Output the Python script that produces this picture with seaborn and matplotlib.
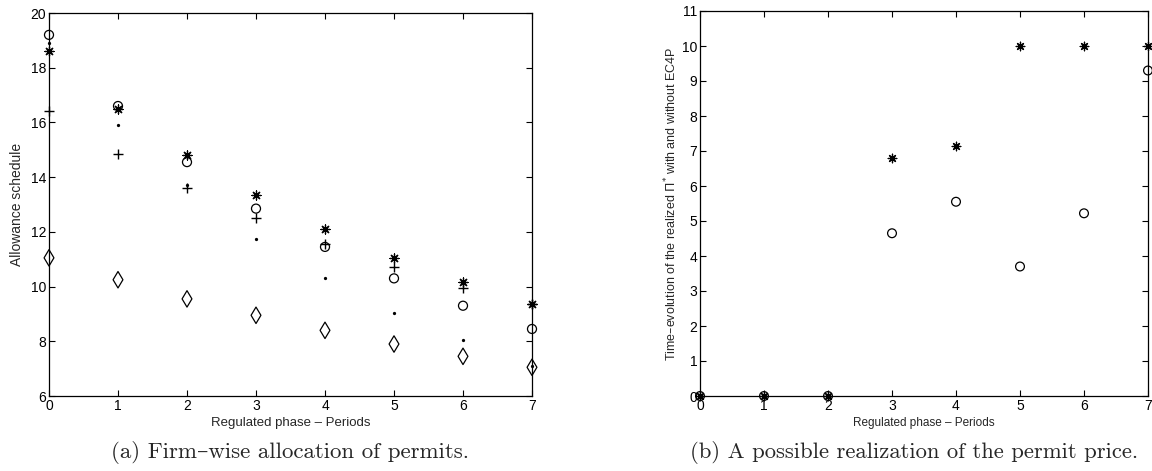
import matplotlib
matplotlib.use('Agg')
import matplotlib.pyplot as plt
import seaborn as sns

sns.set_style('ticks')
plt.rcParams['font.family'] = ['Liberation Sans', 'DejaVu Sans']
plt.rcParams['mathtext.fontset'] = 'dejavusans'

# 왼쪽 그림: 기간별 기업별 할당량
periods = [0, 1, 2, 3, 4, 5, 6, 7]
firm_circle = [19.2, 16.6, 14.55, 12.85, 11.45, 10.3, 9.3, 8.45]
firm_star = [18.6, 16.5, 14.8, 13.35, 12.1, 11.05, 10.15, 9.35]
firm_plus = [16.4, 14.85, 13.6, 12.5, 11.55, 10.7, 9.95, 9.35]
firm_dot = [18.9, 15.9, 13.7, 11.75, 10.3, 9.05, 8.05, 7.1]
firm_diamond = [11.05, 10.25, 9.55, 8.95, 8.4, 7.9, 7.45, 7.05]

# 오른쪽 그림: 허가 가격 실현값
price_with = [0, 0, 0, 6.8, 7.15, 10, 10, 10]
price_without = [0, 0, 0, 4.65, 5.55, 3.7, 5.22, 9.3]

left_yticks = [6, 8, 10, 12, 14, 16, 18, 20]
right_yticks = list(range(12))

W, H = 1152, 471
fig = plt.figure(figsize=(W / 100, H / 100), dpi=100)
ax1 = fig.add_axes([49 / W, 1 - 396 / H, 483 / W, 383 / H])
ax2 = fig.add_axes([700 / W, 1 - 396 / H, 448 / W, 385 / H])

star = (8, 2, 0)
kw = dict(clip_on=False, zorder=3, legend=False)

sns.scatterplot(x=periods, y=firm_circle, ax=ax1, marker='o', s=42,
                facecolors='none', edgecolor='black', linewidth=0.9, **kw)
sns.scatterplot(x=periods, y=firm_star, ax=ax1, marker=star, s=42,
                color='black', linewidth=0.9, **kw)
sns.scatterplot(x=periods, y=firm_plus, ax=ax1, marker='+', s=55,
                color='black', linewidth=1.0, **kw)
sns.scatterplot(x=periods, y=firm_dot, ax=ax1, marker='.', s=22,
                color='black', linewidth=0, **kw)
sns.scatterplot(x=periods, y=firm_diamond, ax=ax1, marker='d', s=70,
                facecolors='none', edgecolor='black', linewidth=0.9, **kw)

sns.scatterplot(x=periods, y=price_without, ax=ax2, marker='o', s=40,
                facecolors='none', edgecolor='black', linewidth=0.9, **kw)
sns.scatterplot(x=periods, y=price_with, ax=ax2, marker=star, s=38,
                color='black', linewidth=0.9, **kw)

ax1.set_xlim(0, 7)
ax1.set_ylim(6, 20)
ax1.set_yticks(left_yticks)
ax1.set_xticks(periods)
ax1.set_xlabel('Regulated phase – Periods', fontsize=9.5, labelpad=3)
ax1.set_ylabel('Allowance schedule', fontsize=10, labelpad=5)

ax2.set_xlim(0, 7)
ax2.set_ylim(0, 11)
ax2.set_yticks(right_yticks)
ax2.set_xticks(periods)
ax2.set_xlabel('Regulated phase – Periods', fontsize=8.5, labelpad=3)
ax2.set_ylabel(r'Time–evolution of the realized $\Pi^{*}$ with and without EC4P',
               fontsize=9, labelpad=2)

for ax in (ax1, ax2):
    ax.tick_params(direction='in', length=4, width=0.8, top=True, right=True,
                   labelsize=10, pad=2, colors='black')
    for sp in ax.spines.values():
        sp.set_visible(True)
        sp.set_linewidth(0.9)
        sp.set_color('black')

cap_font = ['cmr10', 'DejaVu Serif']
fig.text(290 / W, 1 - 453 / H, '(a) Firm–wise allocation of permits.',
         ha='center', va='center', family=cap_font, fontsize=16.5)
fig.text(914 / W, 1 - 453 / H, '(b) A possible realization of the permit price.',
         ha='center', va='center', family=cap_font, fontsize=16.3)

fig.savefig('out.png', dpi=100)
